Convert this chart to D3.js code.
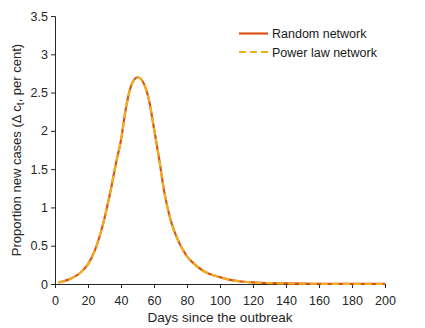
<!DOCTYPE html>
<html><head><meta charset="utf-8">
<script src="https://cdn.jsdelivr.net/npm/d3@7"></script>
<style>body{margin:0;background:#fff}svg{display:block;font-family:"Liberation Sans",Arial,sans-serif}</style>
</head><body><div id="chart"></div>
<script>
const days = [2,5,10,15,20,24,27,30,34,37,40,43,46,48,50,52,54,57,60,63,66,70,75,80,85,90,95,100,107,113,120,130,140,150,160,170,180,190,200];
const randomNetwork = [0.02,0.035,0.075,0.14,0.26,0.43,0.62,0.86,1.25,1.58,1.88,2.30,2.58,2.67,2.70,2.68,2.61,2.40,2.03,1.65,1.23,0.84,0.55,0.36,0.25,0.17,0.12,0.09,0.05,0.033,0.02,0.012,0.007,0.004,0.003,0.002,0.001,0.001,0.001];
const powerLawNetwork = [0.02,0.035,0.075,0.14,0.26,0.43,0.62,0.86,1.25,1.58,1.88,2.30,2.58,2.67,2.70,2.68,2.61,2.40,2.03,1.65,1.23,0.84,0.55,0.36,0.25,0.17,0.12,0.09,0.05,0.033,0.02,0.012,0.007,0.004,0.003,0.002,0.001,0.001,0.001];
const xTicks = [0,20,40,60,80,100,120,140,160,180,200];
const yTicks = [0,0.5,1,1.5,2,2.5,3,3.5];
const seriesNames = ["Random network","Power law network"];

const W = 425, H = 328;
const m = {left:55, right:40, top:16, bottom:44};
const svg = d3.select("#chart").append("svg").attr("width",W).attr("height",H);
const x = d3.scaleLinear().domain([0,200]).range([m.left, W-m.right]);
const y = d3.scaleLinear().domain([0,3.5]).range([H-m.bottom, m.top]);
const axisColor = "#262626";

const gx = svg.append("g").attr("transform",`translate(0,${H-m.bottom})`)
  .call(d3.axisBottom(x).tickValues(xTicks).tickSize(4).tickFormat(d3.format("d")));
const gy = svg.append("g").attr("transform",`translate(${m.left},0)`)
  .call(d3.axisLeft(y).tickValues(yTicks).tickSize(4).tickFormat(d=>String(d)));
[gx,gy].forEach(g=>{
  g.selectAll("path").attr("stroke",axisColor).attr("stroke-width",1);
  g.selectAll("line").attr("stroke",axisColor);
  g.selectAll("text").attr("fill",axisColor).style("font-size","12.5px").style("font-family","'Liberation Sans',Arial,sans-serif");
});
gx.selectAll("text").attr("dy","1.1em");

const line = d3.line().x((d,i)=>x(days[i])).y(d=>y(d)).curve(d3.curveMonotoneX);
svg.append("path").datum(randomNetwork).attr("d",line).attr("fill","none")
  .attr("stroke","#D95319").attr("stroke-width",2.2);
svg.append("path").datum(powerLawNetwork).attr("d",line).attr("fill","none")
  .attr("stroke","#EDB120").attr("stroke-width",2.2).attr("stroke-dasharray","7,4");

svg.append("text").attr("x",(m.left+W-m.right)/2).attr("y",322).attr("text-anchor","middle")
  .attr("fill",axisColor).style("font-size","13.5px").text("Days since the outbreak");
const yl = svg.append("text").attr("transform",`translate(21,${(m.top+H-m.bottom)/2}) rotate(-90)`)
  .attr("text-anchor","middle").attr("fill",axisColor).style("font-size","13px");
yl.append("tspan").text("Proportion new cases (Δ c");
yl.append("tspan").attr("dy","3").style("font-size","10px").text("t");
yl.append("tspan").attr("dy","-3").text(", per cent)");

const leg = svg.append("g");
const colors = ["#D95319","#EDB120"], dashes = [null,"7,4"];
seriesNames.forEach((n,i)=>{
  const yy = 33.5 + i*18.5;
  leg.append("line").attr("x1",239).attr("x2",268).attr("y1",yy).attr("y2",yy)
    .attr("stroke",colors[i]).attr("stroke-width",2.2).attr("stroke-dasharray",dashes[i]);
  leg.append("text").attr("x",272).attr("y",yy+4.5).attr("fill","#1a1a1a").style("font-size","12.5px").text(n);
});
</script></body></html>
